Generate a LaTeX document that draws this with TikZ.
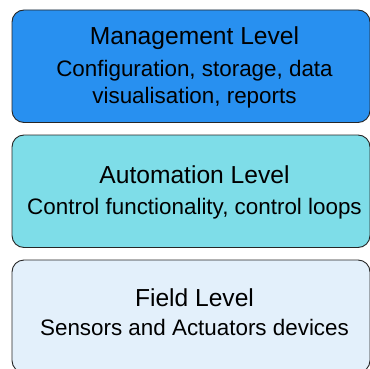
\documentclass[tikz,border=0pt]{standalone}
\usepackage{fontspec}
\setmainfont{Liberation Sans}
\usetikzlibrary{positioning}
\definecolor{mgmtblue}{HTML}{2890F0}
\definecolor{autocyan}{HTML}{7EDDE8}
\definecolor{fieldblue}{HTML}{E3F0FB}

\begin{document}
\begin{tikzpicture}[x=1pt,y=1pt,node distance=12.5pt]
 \tikzstyle{lvl}=[draw=black!85, line width=0.9pt, rounded corners=12pt, minimum width=358pt, minimum height=112.5pt, inner sep=0pt, outer sep=0pt]
 \tikzstyle{ttl}=[anchor=base, inner sep=0pt, font=\fontsize{24.6}{29}\selectfont]
 \tikzstyle{sub}=[anchor=base, inner sep=0pt, font=\fontsize{22.4}{27}\selectfont]
 \useasboundingbox (0,0) rectangle (369,-369);
 % the three levels
 \node[lvl, fill=mgmtblue]  (M) at (191,-66.25) {};
 \node[lvl, fill=autocyan]  (A) [below=of M] {};
 \node[lvl, fill=fieldblue] (F) [below=of A] {};
 % texts
 \node[ttl] (Mt)  at ([xshift=3.5,yshift=-35]M.north) {Management Level};
 \node[sub] (Ms1) at ([xshift=3.5,yshift=-66]M.north) {Configuration, storage, data};
 \node[sub] (Ms2) at ([xshift=3.5,yshift=-93]M.north) {visualisation, reports};
 \node[ttl] (At)  at ([xshift=3.5,yshift=-48.3]A.north) {Automation Level};
 \node[sub] (As)  at ([xshift=3.5,yshift=-79.3]A.north) {Control functionality, control loops};
 \node[ttl] (Ft)  at ([xshift=3.5,yshift=-46.7]F.north) {Field Level};
 \node[sub] (Fs)  at ([xshift=3.5,yshift=-75]F.north) {Sensors and Actuators devices};
\end{tikzpicture}
\end{document}
